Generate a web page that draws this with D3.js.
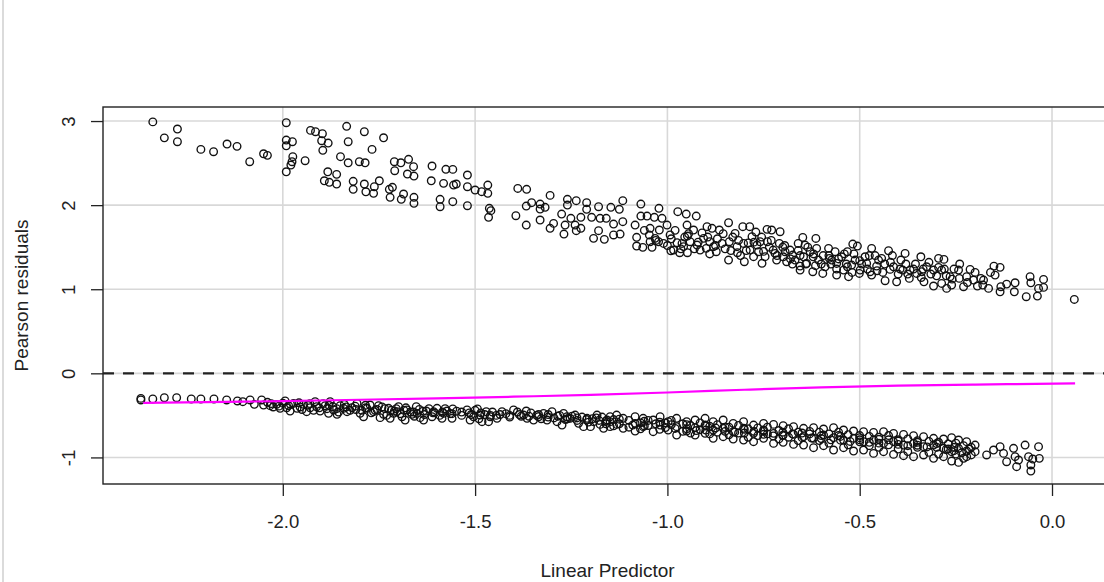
<!DOCTYPE html>
<html><head><meta charset="utf-8">
<script src="https://cdn.jsdelivr.net/npm/d3@7/dist/d3.min.js"></script>
<style>body{margin:0;background:#fff;}svg{display:block;font-family:"Liberation Sans",Arial,sans-serif;}</style>
</head><body>
<svg id="c" width="1104" height="582"></svg>
<script>
const xTicks = [-2.0, -1.5, -1.0, -0.5, 0.0];
const xTickLabels = ["-2.0", "-1.5", "-1.0", "-0.5", "0.0"];
const yTicks = [-1, 0, 1, 2, 3];
const yTickLabels = ["-1", "0", "1", "2", "3"];
const xTitle = "Linear Predictor";
const yTitle = "Pearson residuals";
const refLine = 0;

// upper band (positive residuals)
const upperPts = [
[-2.338,2.99],[-2.308,2.80],[-2.274,2.905],[-2.274,2.754],[-2.213,2.663],[-2.180,2.635],[-2.145,2.727],[-2.119,2.699],[-2.086,2.516],[-2.050,2.611],[-2.040,2.592],[-1.991,2.980],[-1.991,2.774],[-1.975,2.754],[-1.991,2.706],[-1.974,2.576],[-1.976,2.516],[-1.979,2.477],[-1.991,2.397],[-1.942,2.528],[-1.928,2.889],[-1.915,2.873],[-1.897,2.849],[-1.899,2.766],[-1.882,2.738],[-1.896,2.652],[-1.850,2.576],[-1.830,2.504],[-1.834,2.937],[-1.830,2.754],[-1.788,2.873],[-1.768,2.663],[-1.738,2.801],[-1.801,2.516],[-1.786,2.504],[-1.883,2.397],[-1.860,2.366],[-1.892,2.290],[-1.879,2.271],[-1.860,2.251],[-1.817,2.283],[-1.817,2.188],[-1.788,2.251],[-1.784,2.159],[-1.764,2.140],[-1.762,2.219],[-1.749,2.290],[-1.723,2.188],[-1.721,2.093],[-1.715,2.212],[-1.710,2.516],[-1.709,2.409],[-1.693,2.504],[-1.673,2.545],[-1.660,2.457],[-1.676,2.370],[-1.659,2.346],[-1.692,2.069],[-1.686,2.132],[-1.659,2.093],[-1.659,2.021],[-1.612,2.465],[-1.576,2.426],[-1.614,2.290],[-1.582,2.259],[-1.591,2.069],[-1.591,1.981],
[-1.558,2.425],[-1.556,2.239],[-1.549,2.251],[-1.558,2.041],[-1.520,2.358],[-1.520,2.219],[-1.520,1.993],[-1.500,2.180],[-1.483,2.160],[-1.467,2.239],[-1.467,2.140],[-1.463,1.962],[-1.459,1.934],[-1.465,1.855],[-1.389,2.199],[-1.366,2.188],[-1.394,1.874],[-1.367,1.763],[-1.367,1.989],[-1.353,2.029],[-1.331,2.013],[-1.331,1.954],[-1.318,1.974],[-1.331,1.823],[-1.305,2.116],[-1.305,1.724],[-1.296,1.783],[-1.275,1.894],[-1.260,2.069],[-1.260,2.001],[-1.237,2.053],[-1.266,1.763],[-1.269,1.656],[-1.251,1.843],[-1.240,1.763],[-1.237,1.696],[-1.225,1.855],[-1.225,1.724],[-1.210,2.029],[-1.210,1.950],[-1.197,1.855],[-1.179,1.981],[-1.175,1.843],[-1.179,1.696],[-1.192,1.605],[-1.164,1.593],[-1.159,1.843],[-1.147,1.974],[-1.140,1.775],[-1.140,1.645],[-1.125,1.950],[-1.116,2.053],[-1.116,1.803],[-1.123,1.656],[-1.084,1.763],[-1.069,2.013],[-1.069,1.870],[-1.053,1.870],[-1.045,1.724],[-1.080,1.617],[-1.080,1.514],[-1.064,1.498],[-1.047,1.645],[-1.040,1.498],[-1.034,1.855],[-1.022,1.962],[-1.014,1.843],[-1.021,1.704],[-1.023,1.565],[-1.001,1.763],[-0.993,1.645],[-0.991,1.458],[-0.973,1.922],[-0.968,1.434],[-0.962,1.545],[-0.951,1.894],[-0.949,1.763],[-0.948,1.633],[-0.948,1.434],[-0.932,1.704],[-0.925,1.870],[-0.923,1.526],[-0.906,1.605],[-0.897,1.744],[-0.899,1.486],[-0.884,1.724],[-0.890,1.565],[-0.873,1.446],[-0.865,1.704],[-0.858,1.545],[-0.841,1.791],[-0.839,1.565],[-0.841,1.347],[-0.824,1.664],[-0.818,1.434],[-0.804,1.744],[-0.802,1.545],[-0.800,1.327],[-0.786,1.744],[-0.780,1.625],[-0.776,1.387],[-0.767,1.526],[-0.763,1.446],[-0.754,1.308],[-0.741,1.712],[-0.740,1.565],[-0.746,1.387],
[-1.045,1.565],[-1.010,1.545],[-0.958,1.506],[-0.941,1.565],[-0.915,1.466],[-0.880,1.506],[-0.819,1.506],[-0.785,1.466],[-0.759,1.565],[-1.032,1.605],[-0.975,1.553],[-0.984,1.466],
[-0.729,1.704],[-0.707,1.684],[-0.709,1.545],[-0.725,1.466],[-0.716,1.347],[-0.694,1.446],[-0.690,1.327],[-0.674,1.406],[-0.660,1.545],[-0.648,1.616],[-0.642,1.525],[-0.646,1.386],[-0.655,1.275],[-0.655,1.228],[-0.629,1.446],[-0.622,1.208],[-0.614,1.604],[-0.612,1.486],[-0.607,1.347],[-0.596,1.188],[-0.581,1.486],[-0.579,1.367],[-0.564,1.446],[-0.560,1.307],[-0.560,1.168],[-0.547,1.386],[-0.532,1.446],[-0.532,1.267],[-0.529,1.149],[-0.518,1.537],[-0.512,1.347],[-0.506,1.513],[-0.501,1.188],[-0.486,1.386],[-0.482,1.307],[-0.469,1.486],[-0.469,1.168],[-0.456,1.275],[-0.443,1.367],[-0.434,1.101],[-0.425,1.458],[-0.421,1.236],[-0.404,1.089],[-0.393,1.347],[-0.388,1.228],[-0.382,1.426],[-0.371,1.129],[-0.352,1.188],[-0.341,1.386],[-0.339,1.208],[-0.333,1.089],[-0.308,1.038],[-0.308,1.228],[-0.295,1.367],[-0.287,1.228],[-0.281,1.355],[-0.287,1.069],[-0.274,1.010],[-0.261,1.050],[-0.243,1.228],[-0.241,1.129],[-0.230,1.030],[-0.213,1.236],[-0.204,1.109],[-0.194,1.038],[-0.185,1.129],[-0.165,1.010],[-0.151,1.275],[-0.135,1.260],[-0.148,1.168],[-0.135,0.970],[-0.133,1.030],[-0.118,1.061],[-0.096,1.077],[-0.098,0.970],[-0.067,0.911],[-0.057,1.149],[-0.055,1.077],[-0.038,0.919],[-0.035,1.010],[-0.022,1.117],[-0.022,1.022],[0.058,0.879],
[-0.720,1.426],[-0.699,1.386],[-0.681,1.466],[-0.668,1.347],[-0.638,1.307],[-0.621,1.386],[-0.590,1.267],[-0.573,1.347],[-0.542,1.228],[-0.521,1.287],[-0.499,1.228],[-0.473,1.208],[-0.451,1.347],[-0.412,1.267],[-0.369,1.228],[-0.326,1.267],[-0.265,1.149],[-0.222,1.149],[-0.178,1.109],
[-1.06,1.70],[-1.03,1.58],[-1.00,1.52],[-0.98,1.70],[-0.955,1.62],[-0.93,1.48],[-0.91,1.67],[-0.89,1.42],[-0.87,1.60],[-0.85,1.48],[-0.83,1.62],[-0.81,1.40],[-0.79,1.55],[-0.77,1.68],[-0.75,1.45],[-0.73,1.58],[-0.70,1.50],[-0.68,1.36],[-0.66,1.46],[-0.64,1.30],[-0.62,1.42],[-0.60,1.30],[-0.58,1.40],[-0.56,1.24],[-0.54,1.42],[-0.52,1.20],[-0.50,1.34],[-0.48,1.24],[-0.46,1.40],[-0.44,1.20],[-0.42,1.32],[-0.40,1.18],[-0.38,1.30],[-0.36,1.24],[-0.34,1.14],[-0.32,1.32],[-0.30,1.16],[-0.28,1.24],[-0.26,1.12],[-0.24,1.30],[-0.22,1.08],[-0.20,1.20],[-0.18,1.05],[-0.16,1.20],
[-0.99,1.60],[-0.965,1.48],[-0.945,1.66],[-0.92,1.56],[-0.895,1.62],[-0.875,1.52],[-0.855,1.66],[-0.835,1.46],[-0.815,1.58],[-0.795,1.46],[-0.775,1.56],[-0.755,1.62],[-0.735,1.50],[-0.715,1.40],[-0.695,1.52],[-0.675,1.30],[-0.655,1.40],[-0.635,1.50],[-0.615,1.28],[-0.595,1.40],[-0.575,1.30],[-0.555,1.36],[-0.535,1.30],[-0.515,1.42],[-0.495,1.30],[-0.475,1.40],[-0.455,1.22],[-0.435,1.30],[-0.415,1.40],[-0.395,1.24],[-0.375,1.18],[-0.355,1.30],[-0.335,1.24],[-0.315,1.18],[-0.295,1.26],[-0.275,1.16],[-0.255,1.24]
];

// lower band (negative residuals)
const lowerPts = [
[-2.369,-0.298],[-2.369,-0.317],[-2.338,-0.305],[-2.308,-0.290],[-2.276,-0.290],[-2.238,-0.305],[-2.213,-0.305],[-2.179,-0.305],[-2.146,-0.317],[-2.118,-0.329],[-2.104,-0.337],[-2.085,-0.317],[-2.074,-0.369],[-2.055,-0.317],[-2.050,-0.377],[-2.033,-0.385],[-2.016,-0.369],[-1.994,-0.329],[-1.990,-0.409],[-1.972,-0.357],[-1.963,-0.416],[-1.946,-0.369],[-1.929,-0.409],[-1.916,-0.337],[-1.903,-0.448],[-1.890,-0.385],[-1.877,-0.337],[-1.868,-0.436],[-1.851,-0.385],[-1.833,-0.456],[-1.820,-0.409],[-1.807,-0.357],[-1.799,-0.476],[-1.781,-0.416],[-1.764,-0.456],[-1.751,-0.385],[-1.738,-0.488],[-1.725,-0.416],[-1.712,-0.476],[-1.699,-0.397],[-1.690,-0.516],[-1.677,-0.436],[-1.664,-0.488],[-1.653,-0.397],[-1.643,-0.527],[-1.627,-0.448],[-1.612,-0.516],[-1.599,-0.416],[-1.586,-0.535],[-1.573,-0.448],[-1.560,-0.535],[-1.558,-0.424],[-1.521,-0.436],[-1.504,-0.516],[-1.494,-0.424],[-1.482,-0.575],[-1.471,-0.456],[-1.461,-0.516],[-1.465,-0.575],[-1.430,-0.456],[-1.400,-0.436],[-1.367,-0.448],[-1.365,-0.535],[-1.348,-0.555],[-1.322,-0.476],[-1.300,-0.456],[-1.287,-0.575],[-1.270,-0.476],[-1.253,-0.535],[-1.240,-0.496],[-1.218,-0.634],[-1.209,-0.535],[-1.192,-0.575],[-1.183,-0.496],[-1.166,-0.654],[-1.157,-0.555],
[-2.007,-0.416],[-1.981,-0.448],[-1.938,-0.456],[-1.912,-0.397],[-1.881,-0.476],[-1.859,-0.488],[-1.842,-0.416],[-1.790,-0.516],[-1.773,-0.377],[-1.747,-0.527],[-1.721,-0.535],[-1.703,-0.456],[-1.682,-0.555],[-1.651,-0.476],[-1.634,-0.555],[-1.608,-0.456],[-1.582,-0.476],[-1.513,-0.555],[-1.487,-0.496],[-1.443,-0.535],[-1.374,-0.496],[-1.335,-0.516],[-1.313,-0.555],[-1.274,-0.615],[-1.261,-0.516],[-1.231,-0.595],[-1.200,-0.634],[-1.175,-0.607],[-1.149,-0.634],
[-2.040,-0.345],[-2.025,-0.400],[-2.000,-0.355],[-1.985,-0.385],[-1.958,-0.350],[-1.950,-0.430],[-1.935,-0.380],[-1.920,-0.440],[-1.895,-0.360],[-1.885,-0.420],[-1.870,-0.395],[-1.855,-0.460],[-1.840,-0.370],[-1.825,-0.440],[-1.812,-0.390],[-1.795,-0.440],[-1.785,-0.380],[-1.770,-0.470],[-1.755,-0.430],[-1.742,-0.400],[-1.730,-0.500],[-1.718,-0.440],[-1.705,-0.420],[-1.695,-0.480],[-1.680,-0.410],[-1.668,-0.460],[-1.658,-0.510],[-1.645,-0.430],[-1.632,-0.490],[-1.620,-0.420],[-1.605,-0.470],[-1.592,-0.500],[-1.578,-0.420],[-1.565,-0.480],[-1.548,-0.450],[-1.535,-0.500],[-1.515,-0.470],[-1.500,-0.440],[-1.490,-0.540],[-1.475,-0.490],[-1.455,-0.460],[-1.445,-0.500],[-1.420,-0.480],[-1.410,-0.520],[-1.390,-0.460],[-1.380,-0.510],[-1.355,-0.470],[-1.340,-0.500],[-1.328,-0.540],[-1.310,-0.490],[-1.295,-0.530],[-1.280,-0.500],[-1.265,-0.550],[-1.248,-0.510],[-1.235,-0.560],[-1.222,-0.520],[-1.205,-0.580],[-1.195,-0.540],[-1.178,-0.560],[-1.170,-0.520],[-1.160,-0.600],
[-2.03,-0.36],[-2.01,-0.39],[-1.98,-0.37],[-1.955,-0.40],[-1.93,-0.36],[-1.905,-0.41],[-1.88,-0.38],[-1.86,-0.42],[-1.835,-0.40],[-1.81,-0.43],[-1.785,-0.41],[-1.76,-0.44],[-1.735,-0.42],[-1.71,-0.45],[-1.685,-0.44],[-1.66,-0.46],[-1.635,-0.45],[-1.61,-0.47],[-1.585,-0.46],[-1.56,-0.48],[-1.535,-0.46],[-1.51,-0.49],[-1.485,-0.47],[-1.46,-0.50],[-1.435,-0.49],[-1.41,-0.50],[-1.385,-0.49],[-1.36,-0.51],[-1.335,-0.49],[-1.31,-0.52],[-1.285,-0.51],[-1.26,-0.54],[-1.235,-0.53],[-1.21,-0.55],[-1.185,-0.53],[-1.16,-0.57],
[-1.149,-0.516],[-1.149,-0.575],[-1.132,-0.496],[-1.132,-0.607],[-1.115,-0.535],[-1.115,-0.654],[-1.084,-0.516],[-1.084,-0.595],[-1.084,-0.686],[-1.063,-0.535],[-1.063,-0.634],[-1.037,-0.555],[-1.037,-0.694],[-1.019,-0.516],[-1.019,-0.615],[-0.998,-0.575],[-0.998,-0.674],[-0.976,-0.535],[-0.976,-0.634],[-0.976,-0.734],[-0.950,-0.575],[-0.950,-0.686],[-0.928,-0.555],[-0.928,-0.646],[-0.928,-0.734],[-0.902,-0.535],[-0.902,-0.615],[-0.902,-0.714],[-0.881,-0.575],[-0.881,-0.674],[-0.881,-0.773],[-0.855,-0.555],[-0.855,-0.654],[-0.855,-0.753],[-0.829,-0.595],[-0.829,-0.694],[-0.829,-0.781],[-0.802,-0.575],[-0.802,-0.654],[-0.802,-0.793],[-0.776,-0.615],[-0.776,-0.714],[-0.776,-0.813],[-0.750,-0.595],[-0.750,-0.674],[-0.750,-0.773],[-0.724,-0.607],[-0.724,-0.714],[-0.724,-0.833],[-0.699,-0.623],[-0.699,-0.734],[-0.699,-0.821],[-0.672,-0.634],[-0.672,-0.726],[-0.672,-0.845],[-0.646,-0.654],[-0.646,-0.753],[-0.646,-0.853],[-0.620,-0.646],[-0.620,-0.773],[-0.620,-0.884],[-0.594,-0.662],[-0.594,-0.734],[-0.594,-0.860],[-0.568,-0.646],[-0.568,-0.765],[-0.568,-0.912],[-0.542,-0.674],[-0.542,-0.793],[-0.542,-0.884],[-0.516,-0.686],[-0.516,-0.773],[-0.516,-0.924],[-0.490,-0.694],[-0.490,-0.813],[-0.490,-0.912],[-0.464,-0.702],[-0.464,-0.793],[-0.464,-0.952],[-0.438,-0.694],[-0.438,-0.833],[-0.438,-0.932],[-0.412,-0.714],[-0.412,-0.813],[-0.412,-0.964],[-0.386,-0.726],[-0.386,-0.853],[-0.386,-0.979],[-0.360,-0.742],[-0.360,-0.833],[-0.360,-0.991],[-0.334,-0.753],[-0.334,-0.872],[-0.334,-0.971],[-0.308,-0.773],[-0.308,-0.853],[-0.308,-1.011],[-0.282,-0.781],[-0.282,-0.892],[-0.282,-0.991],[-0.261,-0.765],[-0.261,-0.932],[-0.261,-1.043],[-0.243,-0.793],[-0.243,-0.892],[-0.243,-1.059],[-0.222,-0.813],[-0.222,-0.924],[-0.222,-0.991],[-0.200,-0.853],[-0.200,-0.932],
[-1.14,-0.550],[-1.14,-0.625],[-1.10,-0.560],[-1.10,-0.640],[-1.07,-0.590],[-1.07,-0.660],[-1.05,-0.560],[-1.05,-0.620],[-1.02,-0.580],[-1.02,-0.665],[-0.99,-0.610],[-0.99,-0.560],[-0.96,-0.600],[-0.96,-0.690],[-0.94,-0.620],[-0.94,-0.710],[-0.915,-0.590],[-0.915,-0.670],[-0.89,-0.630],[-0.89,-0.720],[-0.87,-0.610],[-0.87,-0.700],[-0.84,-0.640],[-0.84,-0.730],[-0.815,-0.620],[-0.815,-0.710],[-0.79,-0.660],[-0.79,-0.760],[-0.765,-0.650],[-0.765,-0.740],[-0.74,-0.640],[-0.74,-0.720],[-0.71,-0.680],[-0.71,-0.780],[-0.685,-0.660],[-0.685,-0.760],[-0.66,-0.700],[-0.66,-0.800],[-0.63,-0.690],[-0.63,-0.720],[-0.605,-0.700],[-0.605,-0.800],[-0.58,-0.720],[-0.58,-0.830],[-0.555,-0.700],[-0.555,-0.740],[-0.53,-0.730],[-0.53,-0.850],[-0.50,-0.740],[-0.50,-0.790],[-0.475,-0.750],[-0.475,-0.860],[-0.45,-0.760],[-0.45,-0.880],[-0.425,-0.740],[-0.425,-0.850],[-0.40,-0.790],[-0.40,-0.900],[-0.375,-0.780],[-0.375,-0.930],[-0.35,-0.800],[-0.35,-0.880],[-0.32,-0.810],[-0.32,-0.940],[-0.295,-0.820],[-0.295,-0.960],[-0.27,-0.840],[-0.27,-0.900],[-0.25,-0.830],[-0.25,-0.960],[-0.23,-0.860],[-0.23,-1.010],[-0.21,-0.880],[-0.21,-0.970],
[-1.125,-0.600],[-1.125,-0.545],[-1.09,-0.615],[-1.06,-0.625],[-1.06,-0.570],[-1.03,-0.600],[-1.005,-0.645],[-1.005,-0.590],[-0.98,-0.655],[-0.95,-0.660],[-0.95,-0.610],[-0.925,-0.680],[-0.90,-0.675],[-0.90,-0.625],[-0.875,-0.650],[-0.85,-0.690],[-0.85,-0.640],[-0.825,-0.700],[-0.80,-0.710],[-0.80,-0.665],[-0.775,-0.690],[-0.75,-0.725],[-0.75,-0.690],[-0.725,-0.745],[-0.70,-0.740],[-0.70,-0.700],[-0.675,-0.720],[-0.65,-0.765],[-0.65,-0.710],[-0.625,-0.770],[-0.60,-0.775],[-0.60,-0.740],[-0.575,-0.790],[-0.55,-0.795],[-0.55,-0.750],[-0.525,-0.810],[-0.50,-0.815],[-0.50,-0.765],[-0.475,-0.820],[-0.45,-0.830],[-0.45,-0.785],[-0.425,-0.790],[-0.40,-0.845],[-0.40,-0.805],[-0.375,-0.860],[-0.35,-0.855],[-0.35,-0.820],[-0.325,-0.875],[-0.30,-0.880],[-0.30,-0.835],[-0.275,-0.905],[-0.255,-0.880],[-0.255,-0.920],[-0.235,-0.945],[-0.215,-0.900],
[-0.170,-0.971],[-0.152,-0.912],[-0.135,-0.872],[-0.126,-0.952],[-0.118,-1.051],[-0.100,-0.892],[-0.096,-0.991],[-0.092,-1.110],[-0.087,-1.031],[-0.070,-0.853],[-0.061,-0.991],[-0.055,-1.090],[-0.055,-1.162],[-0.035,-0.872],[-0.033,-1.011],[-0.050,-1.019]
];

// smoother (magenta)
const smoothPts = [[-2.363,-0.352],[-2.2,-0.343],[-2.0,-0.330],[-1.8,-0.314],[-1.6,-0.297],[-1.4,-0.278],[-1.2,-0.256],[-1.0,-0.228],[-0.8,-0.195],[-0.6,-0.166],[-0.4,-0.146],[-0.2,-0.134],[0.06,-0.120]];

const svg = d3.select("#c");
const x = d3.scaleLinear().domain([-2.4675, 0.1565]).range([103, 1112.2]);
const y = d3.scaleLinear().domain([-1.316, 3.167]).range([484, 107]);
const [x0, x1] = x.range(), [yb, yt] = y.range();
const ink = "#222";

// screenshot frame line
svg.append("line").attr("x1", 3).attr("x2", 3).attr("y1", 0).attr("y2", 582)
  .attr("stroke", "#cfcfcf").attr("stroke-width", 1.5);

// grid
const g = svg.append("g").attr("stroke", "#d8d8d8").attr("stroke-width", 1.6);
g.selectAll("line.v").data(xTicks).join("line").attr("class", "v")
  .attr("x1", d => x(d)).attr("x2", d => x(d)).attr("y1", yt).attr("y2", yb);
g.selectAll("line.h").data(yTicks).join("line").attr("class", "h")
  .attr("x1", x0).attr("x2", x1).attr("y1", d => y(d)).attr("y2", d => y(d));

// points
const pts = svg.append("g").attr("fill", "none").attr("stroke", "#111").attr("stroke-width", 1.35);
pts.selectAll("circle.u").data(upperPts).join("circle").attr("class", "u")
  .attr("cx", d => x(d[0])).attr("cy", d => y(d[1])).attr("r", 3.8);
pts.selectAll("circle.l").data(lowerPts).join("circle").attr("class", "l")
  .attr("cx", d => x(d[0])).attr("cy", d => y(d[1])).attr("r", 3.8);

// dashed reference line
svg.append("line").attr("x1", x0).attr("x2", x1).attr("y1", y(refLine)).attr("y2", y(refLine))
  .attr("stroke", ink).attr("stroke-width", 2.4).attr("stroke-dasharray", "11,9");

// smoother
svg.append("path").datum(smoothPts)
  .attr("d", d3.line().curve(d3.curveMonotoneX).x(d => x(d[0])).y(d => y(d[1])))
  .attr("fill", "none").attr("stroke", "#ff00ff").attr("stroke-width", 2.2);

// box
svg.append("rect").attr("x", x0).attr("y", yt).attr("width", x1 - x0).attr("height", yb - yt)
  .attr("fill", "none").attr("stroke", ink).attr("stroke-width", 1.4);

// axes
const fmtX = d => xTickLabels[xTicks.indexOf(d)];
const fmtY = d => yTickLabels[yTicks.indexOf(d)];
const ax = svg.append("g").attr("transform", `translate(0,${yb})`)
  .call(d3.axisBottom(x).tickValues(xTicks).tickFormat(fmtX).tickSize(12).tickSizeOuter(0));
ax.select(".domain").remove();
ax.selectAll(".tick line").attr("stroke", ink).attr("stroke-width", 1.3);
ax.selectAll(".tick text").attr("y", 44).attr("dy", 0).attr("fill", ink)
  .attr("font-size", 18.5).attr("font-family", "Liberation Sans, Arial, sans-serif");

const ay = svg.append("g").attr("transform", `translate(${x0},0)`)
  .call(d3.axisLeft(y).tickValues(yTicks).tickFormat(fmtY).tickSize(12).tickSizeOuter(0));
ay.select(".domain").remove();
ay.selectAll(".tick line").attr("stroke", ink).attr("stroke-width", 1.3);
ay.selectAll(".tick text").attr("x", 0).attr("y", 0).attr("dy", 0)
  .attr("transform", "translate(-28,0) rotate(-90)").attr("text-anchor", "middle")
  .attr("fill", ink).attr("font-size", 18.5).attr("font-family", "Liberation Sans, Arial, sans-serif");

// titles
svg.append("text").attr("x", (x0 + x1) / 2).attr("y", 577).attr("text-anchor", "middle")
  .attr("font-size", 19).attr("fill", ink).text(xTitle);
svg.append("text").attr("transform", `translate(28,${(yt + yb) / 2}) rotate(-90)`)
  .attr("text-anchor", "middle").attr("font-size", 19).attr("fill", ink).text(yTitle);
</script>
</body></html>
